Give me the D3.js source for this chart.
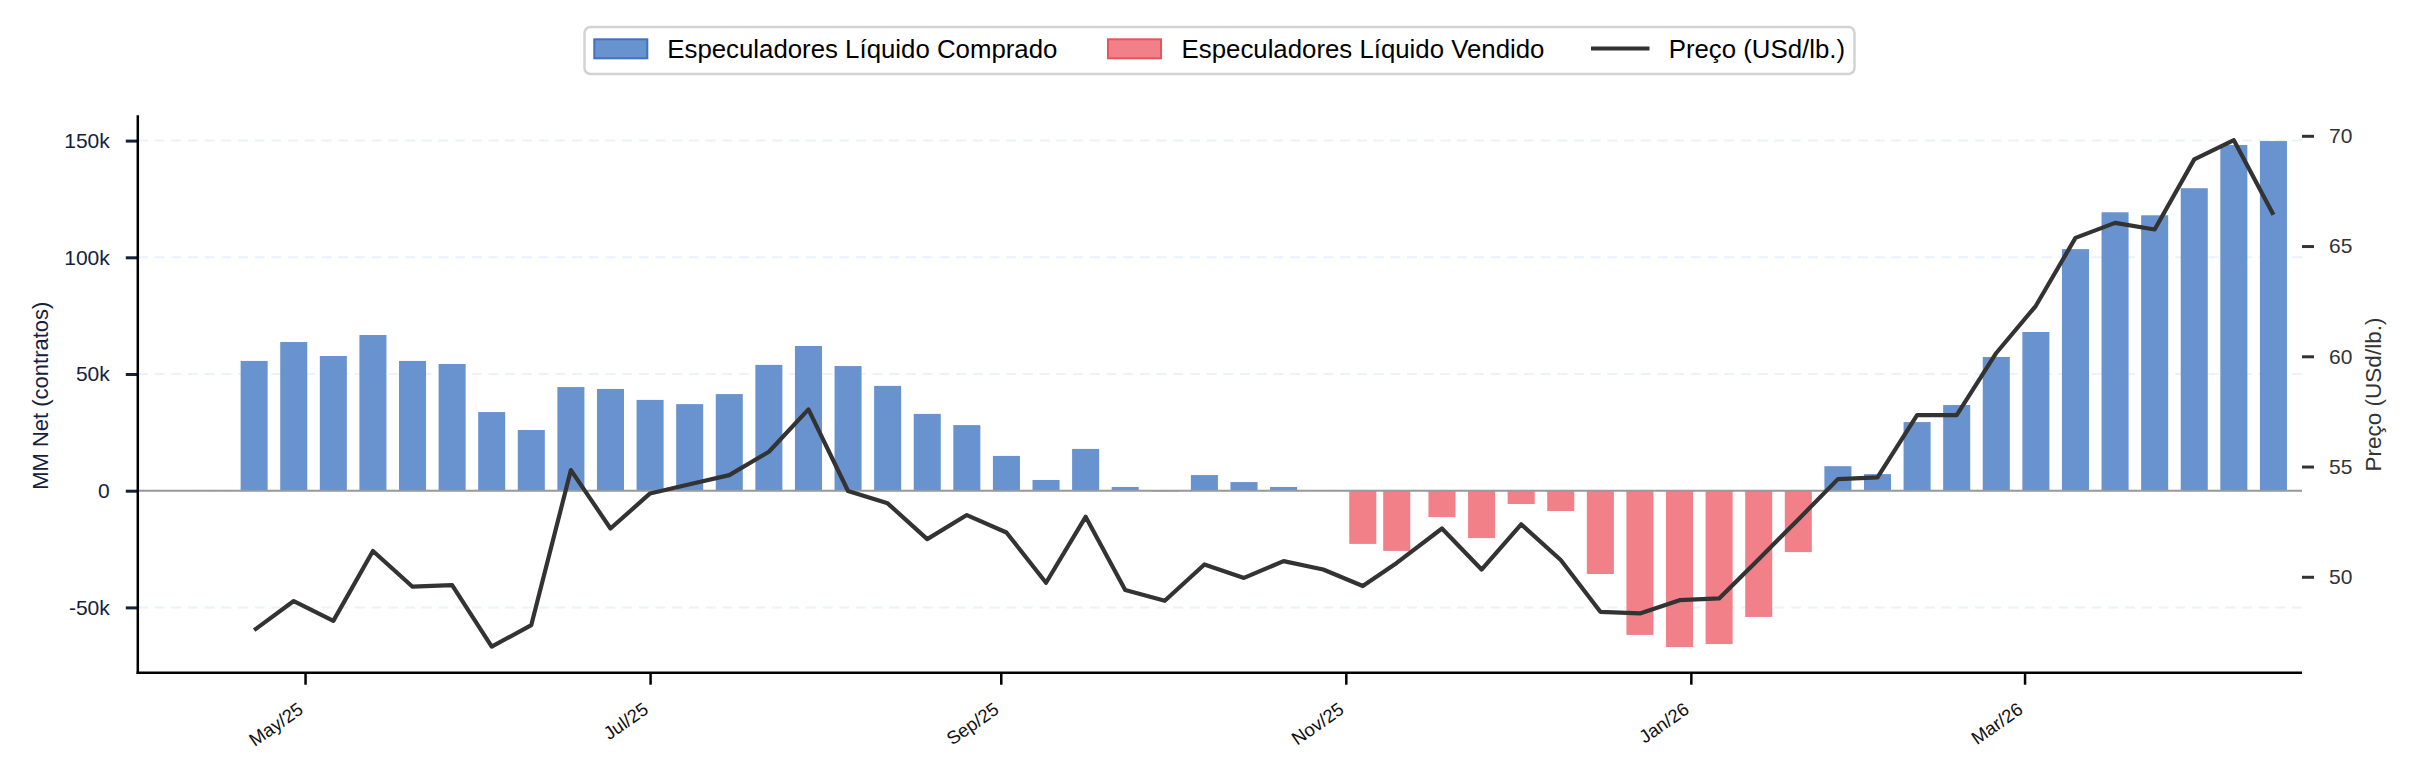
<!DOCTYPE html>
<html>
<head>
<meta charset="utf-8">
<script src="https://cdn.jsdelivr.net/npm/d3@7"></script>
<style>
  html, body { margin: 0; padding: 0; background: #ffffff; }
  svg { display: block; font-family: "Liberation Sans", Arial, Helvetica, sans-serif; }
</style>
</head>
<body>
<svg id="chart" width="2416" height="781"></svg>
<script>
// ---------------- DATA ----------------
const reportDates = [
  "2025-04-22","2025-04-29","2025-05-06","2025-05-13","2025-05-20","2025-05-27",
  "2025-06-03","2025-06-10","2025-06-17","2025-06-24","2025-07-01","2025-07-08",
  "2025-07-15","2025-07-22","2025-07-29","2025-08-05","2025-08-12","2025-08-19",
  "2025-08-26","2025-09-02","2025-09-09","2025-09-16","2025-09-23","2025-09-30",
  "2025-10-07","2025-10-14","2025-10-21","2025-10-28","2025-11-04","2025-11-10",
  "2025-11-18","2025-11-25","2025-12-02","2025-12-09","2025-12-16","2025-12-23",
  "2025-12-30","2026-01-06","2026-01-13","2026-01-20","2026-01-27","2026-02-03",
  "2026-02-10","2026-02-17","2026-02-24","2026-03-03","2026-03-10","2026-03-17",
  "2026-03-24","2026-03-31","2026-04-07","2026-04-14"
];
// Managed-money net position (contracts)
const mmNet = [
  55600, 63700, 57700, 66700, 55600, 54300,
  33700, 26000, 44400, 43600, 38900, 37100,
  41400, 53900, 62000, 53400, 44900, 32900,
  28100, 14900, 4600, 17900, 1600, -400,
  6700, 3700, 1600, 0, -22800, -25800,
  -11300, -20300, -5700, -8700, -35700, -61800,
  -67000, -65700, -54100, -26300, 10500, 7100,
  29400, 36700, 57300, 68000, 103500, 119300,
  118000, 129600, 148100, 149800
];
// Price (USd/lb.)
const price = [
  47.58, 48.90, 48.00, 51.17, 49.55, 49.62,
  46.83, 47.81, 54.84, 52.19, 53.78, 54.20,
  54.61, 55.67, 57.59, 53.89, 53.33, 51.71,
  52.80, 52.01, 49.73, 52.72, 49.40, 48.91,
  50.56, 49.95, 50.71, 50.33, 49.58, 50.63,
  52.19, 50.33, 52.38, 50.76, 48.41, 48.34,
  48.94, 49.02, 50.80, 52.60, 54.43, 54.51,
  57.33, 57.33, 60.15, 62.29, 65.37, 66.05,
  65.75, 68.93, 69.80, 66.42
];
const leftTickValues = [-50000, 0, 50000, 100000, 150000];
const leftTickLabels = ["-50k", "0", "50k", "100k", "150k"];
const rightTickValues = [50, 55, 60, 65, 70];
const xTickDates = ["2025-05-01","2025-07-01","2025-09-01","2025-11-01","2026-01-01","2026-03-01"];
const xTickLabels = ["May/25","Jul/25","Sep/25","Nov/25","Jan/26","Mar/26"];
const legendLabels = ["Especuladores Líquido Comprado", "Especuladores Líquido Vendido", "Preço (USd/lb.)"];
const leftAxisTitle = "MM Net (contratos)";
const rightAxisTitle = "Preço (USd/lb.)";

// ---------------- LAYOUT ----------------
const parse = d3.utcParse("%Y-%m-%d");
const dates = reportDates.map(parse);
const rows = dates.map((d, i) => ({ date: d, net: mmNet[i], price: price[i] }));

const plotLeft = 137.8, plotRight = 2302, plotTop = 115.3, plotBottom = 672.7;
const DAY = 864e5;

const x = d3.scaleUtc()
  .domain([new Date(Date.UTC(2025, 3, 1) + 0.43 * DAY), new Date(Date.UTC(2026, 3, 19) + 0.05 * DAY)])
  .range([plotLeft, plotRight]);
const yL = d3.scaleLinear().domain([-77980, 160840]).range([plotBottom, plotTop]);
const yR = d3.scaleLinear().domain([45.65, 70.93]).range([plotBottom, plotTop]);

const svg = d3.select("#chart");
const BLUE = "#6993cf", RED = "#f18089";
const NAVY = "#14213d";

// gridlines
svg.append("g").selectAll("line").data(leftTickValues).join("line")
  .attr("x1", plotLeft).attr("x2", plotRight)
  .attr("y1", d => yL(d)).attr("y2", d => yL(d))
  .attr("stroke", "#eaf2fc").attr("stroke-width", 2)
  .attr("stroke-dasharray", "10,6.7");

// bars
const halfW = 2.39 * DAY;
svg.append("g").selectAll("rect").data(rows).join("rect")
  .attr("x", d => x(new Date(+d.date - halfW)))
  .attr("width", d => x(new Date(+d.date + halfW)) - x(new Date(+d.date - halfW)))
  .attr("y", d => d.net >= 0 ? yL(d.net) : yL(0))
  .attr("height", d => Math.abs(yL(d.net) - yL(0)))
  .attr("fill", d => d.net >= 0 ? BLUE : RED);

// zero line
svg.append("line")
  .attr("x1", plotLeft).attr("x2", plotRight)
  .attr("y1", yL(0)).attr("y2", yL(0))
  .attr("stroke", "#999999").attr("stroke-width", 2);

// price line
svg.append("path").datum(rows)
  .attr("fill", "none").attr("stroke", "#333333").attr("stroke-width", 4.2)
  .attr("stroke-linejoin", "round")
  .attr("d", d3.line().x(d => x(d.date)).y(d => yR(d.price)));

// left axis
const gL = svg.append("g").attr("transform", `translate(${plotLeft},0)`)
  .call(d3.axisLeft(yL).tickValues(leftTickValues)
    .tickFormat((d, i) => leftTickLabels[i]).tickSize(12).tickPadding(16).tickSizeOuter(0));
gL.select(".domain").remove();
gL.selectAll(".tick line").attr("stroke", NAVY).attr("stroke-width", 3);
gL.selectAll(".tick text").attr("fill", NAVY).style("font-size", "21px");
svg.append("line").attr("x1", plotLeft).attr("x2", plotLeft)
  .attr("y1", plotTop).attr("y2", plotBottom + 1.2)
  .attr("stroke", "#000").attr("stroke-width", 2.5);

// right axis
const gR = svg.append("g").attr("transform", `translate(${plotRight},0)`)
  .call(d3.axisRight(yR).tickValues(rightTickValues)
    .tickFormat(d3.format("d")).tickSize(12).tickPadding(15).tickSizeOuter(0));
gR.select(".domain").remove();
gR.selectAll(".tick line").attr("stroke", "#333").attr("stroke-width", 3);
gR.selectAll(".tick text").attr("fill", "#333").style("font-size", "21px");

// bottom axis
const gB = svg.append("g").attr("transform", `translate(0,${plotBottom})`)
  .call(d3.axisBottom(x).tickValues(xTickDates.map(parse))
    .tickFormat((d, i) => xTickLabels[i]).tickSize(12).tickSizeOuter(0));
gB.select(".domain").remove();
gB.selectAll(".tick line").attr("stroke", "#000").attr("stroke-width", 2.5);
gB.selectAll(".tick text")
  .attr("x", 0).attr("y", 0).attr("dy", 0)
  .attr("transform", "translate(-1,39.5) rotate(-35)")
  .attr("text-anchor", "end")
  .attr("fill", "#111")
  .style("font-size", "18.5px");
svg.append("line").attr("x1", plotLeft - 1.2).attr("x2", plotRight)
  .attr("y1", plotBottom).attr("y2", plotBottom)
  .attr("stroke", "#000").attr("stroke-width", 2.5);

// axis titles
svg.append("text")
  .attr("transform", `translate(48,395.7) rotate(-90)`)
  .attr("text-anchor", "middle").attr("fill", NAVY)
  .style("font-size", "22px").text(leftAxisTitle);
svg.append("text")
  .attr("transform", `translate(2381,394.5) rotate(-90)`)
  .attr("text-anchor", "middle").attr("fill", "#333")
  .style("font-size", "22.5px").text(rightAxisTitle);

// legend
const lg = svg.append("g");
lg.append("rect").attr("x", 584.5).attr("y", 27).attr("width", 1270).attr("height", 47)
  .attr("rx", 6).attr("fill", "#fff").attr("stroke", "#d3d3d3").attr("stroke-width", 2.5);
lg.append("rect").attr("x", 594.3).attr("y", 39.3).attr("width", 53).attr("height", 19)
  .attr("fill", BLUE).attr("stroke", "#3d72c4").attr("stroke-width", 2);
lg.append("text").attr("x", 667.3).attr("y", 57.8).style("font-size", "25.8px").attr("fill", "#000")
  .text(legendLabels[0]);
lg.append("rect").attr("x", 1108).attr("y", 39.3).attr("width", 53).attr("height", 19)
  .attr("fill", RED).attr("stroke", "#e9535e").attr("stroke-width", 2);
lg.append("text").attr("x", 1181.6).attr("y", 57.8).style("font-size", "25.8px").attr("fill", "#000")
  .text(legendLabels[1]);
lg.append("line").attr("x1", 1591).attr("x2", 1649.5).attr("y1", 48.5).attr("y2", 48.5)
  .attr("stroke", "#333").attr("stroke-width", 4);
lg.append("text").attr("x", 1668.7).attr("y", 57.8).style("font-size", "25.8px").attr("fill", "#000")
  .text(legendLabels[2]);
</script>
</body>
</html>
